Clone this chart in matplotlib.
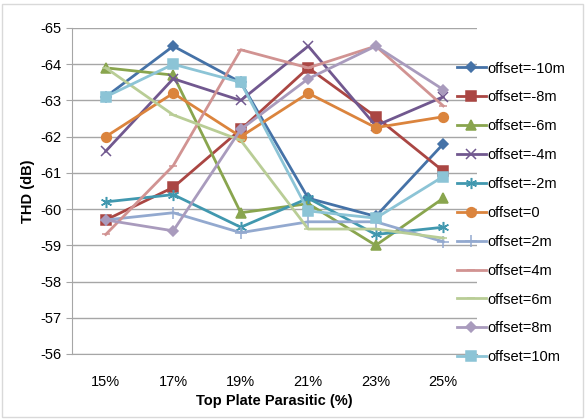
import matplotlib.pyplot as plt
from matplotlib.patches import Rectangle

plt.rcParams["font.family"] = ["Liberation Sans", "DejaVu Sans"]
plt.rcParams["axes.unicode_minus"] = False

# x categories
categories = ["15%", "17%", "19%", "21%", "23%", "25%"]

labels = ["offset=-10m", "offset=-8m", "offset=-6m", "offset=-4m", "offset=-2m",
          "offset=0", "offset=2m", "offset=4m", "offset=6m", "offset=8m", "offset=10m"]

off_m10 = [-63.1, -64.5, -63.5, -60.3, -59.8, -61.8]
off_m8 = [-59.7, -60.6, -62.2, -63.9, -62.55, -61.05]
off_m6 = [-63.9, -63.7, -59.9, -60.15, -59.0, -60.3]
off_m4 = [-61.6, -63.6, -63.0, -64.5, -62.3, -63.1]
off_m2 = [-60.2, -60.4, -59.5, -60.3, -59.3, -59.5]
off_0 = [-62.0, -63.2, -62.0, -63.2, -62.25, -62.55]
off_2 = [-59.7, -59.9, -59.35, -59.65, -59.65, -59.1]
off_4 = [-59.3, -61.2, -64.4, -63.9, -64.5, -62.85]
off_6 = [-63.9, -62.6, -61.9, -59.45, -59.45, -59.2]
off_8 = [-59.7, -59.4, -62.2, -63.6, -64.5, -63.3]
off_10 = [-63.1, -64.0, -63.5, -59.95, -59.75, -60.9]

series = [off_m10, off_m8, off_m6, off_m4, off_m2, off_0, off_2, off_4, off_6, off_8, off_10]
colors = ["#4572A7", "#AA4643", "#89A54E", "#71588F", "#4198AF", "#DB843D",
          "#93A9CF", "#D19392", "#B9CD96", "#A99BBD", "#8CC4D6"]
markers = ["D", "s", "^", "x", (6, 2, 0), "o", "+", "_", "_", "D", "s"]
msizes = [5, 6.5, 6.5, 7, 8, 7, 8, 6, 6, 5, 7]

fig = plt.figure(figsize=(5.85, 4.19), dpi=100)
ax = fig.add_axes([72 / 585, 1 - 354 / 419, 405 / 585, 326 / 419])

x = range(len(categories))
for vals, lab, c, m, ms in zip(series, labels, colors, markers, msizes):
    ax.plot(x, vals, color=c, marker=m, markersize=ms, linewidth=2,
            markeredgewidth=1.1, label=lab)

ax.set_xlim(-0.5, len(categories) - 0.5)
ax.set_ylim(-56, -65)
ax.set_yticks(range(-65, -55))
ax.set_xticks(list(x))
ax.set_xticklabels(categories)
ax.yaxis.grid(True, color="#A6A6A6", linewidth=1)
ax.set_axisbelow(True)
for s in ["top", "right"]:
    ax.spines[s].set_visible(False)
for s in ["left", "bottom"]:
    ax.spines[s].set_color("#A6A6A6")
ax.tick_params(axis="both", labelsize=10.5, color="#A6A6A6", length=4)
ax.tick_params(axis="x", length=0, pad=15)
ax.set_ylabel("THD (dB)", fontsize=10.5, fontweight="bold")
ax.set_xlabel("Top Plate Parasitic (%)", fontsize=10.5, fontweight="bold", labelpad=4)

ax.legend(loc="upper left", bbox_to_anchor=(0.95, 0.897), frameon=False,
          fontsize=10.5, handlelength=2.0, handletextpad=0.1, labelspacing=1.02,
          borderaxespad=0, borderpad=0)

fig.patches.append(Rectangle((2 / 585, 2 / 419), 581 / 585, 413 / 419,
                             transform=fig.transFigure, fill=False,
                             edgecolor="#D9D9D9", linewidth=1))

fig.savefig("out.png", dpi=100)
